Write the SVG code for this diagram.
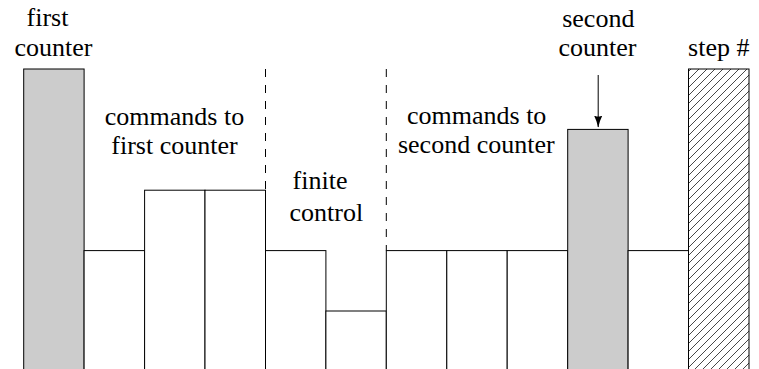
<svg xmlns="http://www.w3.org/2000/svg" width="759" height="369" viewBox="0 0 759 369">
<style>
.bar{fill:#ffffff;stroke:#000000;stroke-width:1}
.gray{fill:#cccccc;stroke:#000000;stroke-width:1}
.hatch{fill:url(#nel);stroke:#000000;stroke-width:1}
.sep{stroke:#000000;stroke-width:1;stroke-dasharray:8 8;fill:none}
text{font-family:'Liberation Serif','Noto Serif','DejaVu Serif','Times New Roman',serif;font-size:26px;fill:#000000;text-anchor:middle}
.conn{stroke:#000000;stroke-width:1;fill:none}
</style>
<defs>
<pattern id="nel" patternUnits="userSpaceOnUse" x="0" y="0" width="8" height="8">
<rect width="8" height="8" fill="#ffffff"/>
<path d="M-1,9 L9,-1 M-1,1 L1,-1 M7,9 L9,7" stroke="#333333" stroke-width="0.9"/>
</pattern>
<marker id="ah" viewBox="0 0 12 10" refX="11.5" refY="5" markerWidth="12" markerHeight="10" markerUnits="userSpaceOnUse" orient="auto">
<path d="M0,0.8 Q5,3.5 12,5 Q5,6.5 0,9.2 Q2,5 0,0.8 Z" fill="#000000"/>
</marker>
</defs>

<g id="bars">
<g id="first-counter"><rect class="gray" x="23.7" y="69" width="60.4" height="320"/></g>
<g id="cell1"><rect class="bar" x="84.1" y="250.6" width="60.5" height="140"/></g>
<g id="cell2"><rect class="bar" x="144.6" y="190.2" width="60.4" height="200"/></g>
<g id="cell3"><rect class="bar" x="205" y="190.2" width="60.5" height="200"/></g>
<g id="cell4"><rect class="bar" x="265.5" y="250.6" width="60.4" height="140"/></g>
<g id="cell5"><rect class="bar" x="325.9" y="311" width="60.4" height="80"/></g>
<g id="cell6"><rect class="bar" x="386.3" y="250.6" width="60.5" height="140"/></g>
<g id="cell7"><rect class="bar" x="446.8" y="250.6" width="60.4" height="140"/></g>
<g id="cell8"><rect class="bar" x="507.2" y="250.6" width="60.5" height="140"/></g>
<g id="second-counter"><rect class="gray" x="567.7" y="129.4" width="60.4" height="260"/></g>
<g id="cell10"><rect class="bar" x="628.1" y="250.6" width="60.4" height="140"/></g>
<g id="step-counter"><rect class="hatch" x="688.5" y="69" width="60.5" height="320"/></g>
</g>

<g id="separators">
<line class="sep" x1="265.5" y1="69" x2="265.5" y2="190.2"/>
<line class="sep" x1="386.3" y1="69" x2="386.3" y2="250.6"/>
</g>

<g id="connectors">
<line class="conn" x1="598.2" y1="75" x2="598.2" y2="127" marker-end="url(#ah)"/>
</g>

<g id="labels">
<g id="label-first-counter">
<text x="47.5" y="26">first</text>
<text x="53.5" y="56">counter</text>
</g>
<g id="label-commands-first">
<text x="174.5" y="125">commands to</text>
<text x="174.5" y="154">first counter</text>
</g>
<g id="label-finite-control">
<text x="320" y="189">finite</text>
<text x="326.3" y="220.5">control</text>
</g>
<g id="label-commands-second">
<text x="476.7" y="124">commands to</text>
<text x="476.3" y="153">second counter</text>
</g>
<g id="label-second-counter">
<text x="598.3" y="26.5">second</text>
<text x="597.5" y="56">counter</text>
</g>
<g id="label-step">
<text x="718.8" y="56">step #</text>
</g>
</g>
</svg>
